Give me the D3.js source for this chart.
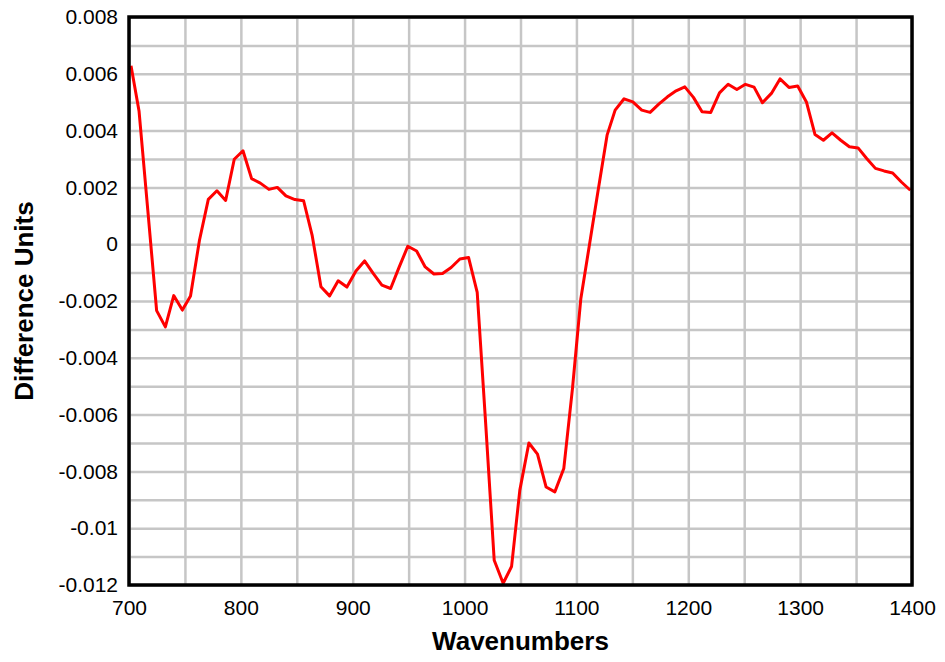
<!DOCTYPE html>
<meta charset="utf-8">
<style>
    body { margin: 0; background: #fff; }
    text { font-family: "Liberation Sans", Arial, sans-serif; fill: #000; }
    .grid line { stroke: #c6c6c6; stroke-width: 2.5; }
    .grid path { display: none; }
    .axis path, .axis line { display: none; }
    .axis text { font-size: 21px; }
    .title { font-size: 26px; font-weight: bold; }
</style>
<svg width="945" height="662"></svg>
<script src="https://d3js.org/d3.v7.min.js"></script>
<script>
    // wavenumbers (cm-1) and difference values
    var wavenumbers = [701.8, 709, 716.8, 724.7, 732.5, 740, 747.7, 755, 763, 770.9,
        778.6, 786.4, 794.1, 801.9, 809.6, 817.4, 825.1, 832.6, 840.3, 848.3,
        856.1, 863.8, 871.6, 879.3, 887, 894.8, 902.9, 910.6, 918.3, 926.1,
        933.9, 941.6, 949.3, 957.1, 964.8, 972.6, 980.3, 988, 995.8, 1003.6,
        1011.3, 1019, 1026.5, 1034.5, 1042, 1049.4, 1057.5, 1065.2, 1072.9, 1080.7,
        1088.7, 1096.4, 1103.9, 1111.4, 1119.2, 1127.4, 1134.6, 1142.6, 1150.4, 1158.4,
        1165.9, 1173.6, 1181.4, 1189.1, 1196.9, 1204.6, 1212.3, 1220.1, 1227.9, 1235.6,
        1243.4, 1251.1, 1258.8, 1266.3, 1274.3, 1282, 1290, 1297.8, 1305.6, 1313.3,
        1320.8, 1328.5, 1336.3, 1344, 1351.8, 1359.5, 1367.3, 1375, 1382.7, 1390.5,
        1398.5];

    var difference = [0.00628, 0.00468, 0.0012, -0.00234, -0.00291, -0.00181, -0.00232, -0.00182, 0.00014, 0.00158,
        0.00188, 0.00154, 0.00299, 0.00329, 0.00231, 0.00215, 0.00193, 0.0020, 0.0017, 0.00157,
        0.00153, 0.0003, -0.0015, -0.00182, -0.00129, -0.00151, -0.00094, -0.00059, -0.00103, -0.00144,
        -0.00156, -0.0008, -0.00007, -0.00024, -0.0008, -0.00105, -0.00103, -0.00082, -0.00052, -0.00047,
        -0.0017, -0.0064, -0.01113, -0.01194, -0.01135, -0.00866, -0.0070, -0.00739, -0.00855, -0.00872,
        -0.0079, -0.0051, -0.00193, -0.00008, 0.00185, 0.00384, 0.00472, 0.00512, 0.00501, 0.00472,
        0.00464, 0.00493, 0.00519, 0.0054, 0.00554, 0.00517, 0.00466, 0.00464, 0.00533, 0.00563,
        0.00545, 0.00563, 0.00553, 0.00498, 0.00531, 0.00582, 0.00552, 0.00557, 0.00501, 0.00386,
        0.00366, 0.00392, 0.00366, 0.00343, 0.00339, 0.00302, 0.00267, 0.00258, 0.00251, 0.00219,
        0.0019];

    var xTicks = [700, 800, 900, 1000, 1100, 1200, 1300, 1400];
    var yTicks = [0.008, 0.006, 0.004, 0.002, 0, -0.002, -0.004, -0.006, -0.008, -0.01, -0.012];
    var xGrid = d3.range(700, 1401, 50);
    var yGrid = d3.range(-12, 9, 1).map(d => d / 1000);

    var svg = d3.select('svg'),
        margin = { top: 17, right: 33, bottom: 77, left: 129 },
        width = +svg.attr('width') - margin.left - margin.right,
        height = +svg.attr('height') - margin.top - margin.bottom;

    var x = d3.scaleLinear().domain([700, 1400]).range([0, width]),
        y = d3.scaleLinear().domain([-0.012, 0.008]).range([height, 0]);

    var g = svg.append('g')
        .attr('transform', 'translate(' + margin.left + ',' + margin.top + ')');

    // grid
    g.append('g')
        .attr('class', 'grid')
        .attr('transform', 'translate(0,' + height + ')')
        .call(d3.axisBottom(x).tickValues(xGrid).tickSize(-height).tickFormat(''));
    g.append('g')
        .attr('class', 'grid')
        .call(d3.axisLeft(y).tickValues(yGrid).tickSize(-width).tickFormat(''));

    // axes labels
    g.append('g')
        .attr('class', 'axis')
        .attr('transform', 'translate(0,' + height + ')')
        .call(d3.axisBottom(x).tickValues(xTicks).tickSize(0).tickPadding(15).tickFormat(d3.format('d')));
    g.append('g')
        .attr('class', 'axis')
        .call(d3.axisLeft(y).tickValues(yTicks).tickSize(0).tickPadding(11)
            .tickFormat(d => d === 0 ? '0' : String(+d.toFixed(3))));

    // the curve
    var line = d3.line()
        .x((d, i) => x(wavenumbers[i]))
        .y(d => y(d));
    g.append('path')
        .datum(difference)
        .attr('fill', 'none')
        .attr('stroke', '#ff0000')
        .attr('stroke-width', 3)
        .attr('stroke-linejoin', 'round')
        .attr('d', line);

    // frame
    g.append('rect')
        .attr('width', width)
        .attr('height', height)
        .attr('fill', 'none')
        .attr('stroke', '#000')
        .attr('stroke-width', 3.5);

    // titles
    svg.append('text')
        .attr('class', 'title')
        .attr('text-anchor', 'middle')
        .attr('x', margin.left + width / 2)
        .attr('y', 650)
        .text('Wavenumbers');
    svg.append('text')
        .attr('class', 'title')
        .attr('text-anchor', 'middle')
        .attr('transform', 'translate(33,' + (margin.top + height / 2) + ') rotate(-90)')
        .text('Difference Units');
</script>
